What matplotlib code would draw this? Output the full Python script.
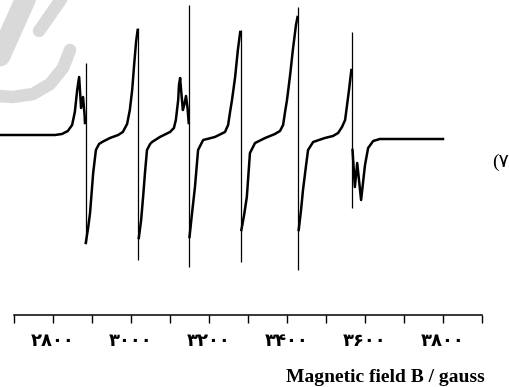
import numpy as np
import matplotlib.pyplot as plt
from matplotlib.lines import Line2D

# EPR spectrum (first derivative), field in gauss, intensity in arbitrary units.
# np.nan marks where the trace jumps from a peak to its trough.
field = [2664, 2805, 2823, 2838, 2849, 2856, 2862, 2867, 2872, 2877, 2881, 2882, np.nan,
         2884, 2890, 2895, 2903, 2910, 2918, 2926, 2946, 2967, 2979, 2990, 2997, 3003,
         3008, 3013, 3017, np.nan,
         3020, 3026, 3031, 3036, 3041, 3049, 3054, 3074, 3100, 3110, 3115, 3121, 3123,
         3126, 3128, 3133, 3137, 3141, 3145, 3148, np.nan,
         3150, 3156, 3164, 3172, 3185, 3215, 3241, 3249, 3254, 3259, 3267, 3274, 3280, np.nan,
         3283, 3290, 3297, 3305, 3318, 3344, 3369, 3382, 3390, 3395, 3400, 3408, 3415,
         3423, 3427, np.nan,
         3430, 3436, 3441, 3449, 3454, 3467, 3497, 3518, 3531, 3541, 3549, 3554, 3559,
         3565, np.nan,
         3568, 3574, 3580, 3590, 3600, 3608, 3621, 3638, 3800]
signal = [0.00, 0.00, 0.01, 0.04, 0.10, 0.23, 0.45, 0.58, 0.27, 0.38, 0.20, 0.12, np.nan,
          -1.08, -0.93, -0.78, -0.38, -0.15, -0.09, -0.07, -0.03, 0.00, 0.03, 0.11, 0.25, 0.45,
          0.70, 0.93, 1.05, np.nan,
          -1.03, -0.85, -0.62, -0.37, -0.15, -0.09, -0.07, -0.02, 0.03, 0.07, 0.15, 0.35, 0.50,
          0.57, 0.47, 0.25, 0.31, 0.39, 0.27, 0.12, np.nan,
          -1.02, -0.80, -0.52, -0.15, -0.05, -0.02, 0.03, 0.10, 0.23, 0.35, 0.58, 0.85, 1.03, np.nan,
          -0.95, -0.80, -0.62, -0.18, -0.08, -0.03, 0.01, 0.04, 0.10, 0.23, 0.35, 0.60, 0.85,
          1.10, 1.18, np.nan,
          -0.95, -0.75, -0.55, -0.30, -0.15, -0.07, -0.03, -0.01, 0.02, 0.08, 0.15, 0.30, 0.45,
          0.65, np.nan,
          -0.15, -0.52, -0.28, -0.65, -0.30, -0.13, -0.06, -0.04, -0.04]

# sharp central lines of the six hyperfine components
line_pos = [2884, 3019, 3150, 3281, 3428, 3567]
line_top = [0.72, 1.07, 1.30, 1.05, 1.28, 1.03]
line_bottom = [-1.08, -1.25, -1.32, -1.27, -1.35, -0.73]

major_ticks = [2800, 3000, 3200, 3400, 3600, 3800]
major_labels = ['۲۸۰۰', '۳۰۰۰', '۳۲۰۰', '۳۴۰۰', '۳۶۰۰', '۳۸۰۰']
minor_ticks = [2700, 2900, 3100, 3300, 3500, 3700, 3900]

fig = plt.figure(figsize=(5.10, 3.87), dpi=100)
ax = fig.add_axes([0, 0, 1, 1])
ax.set_facecolor('none')
ax.set_xlim(2664.1, 3971.8)
ax.set_ylim(-2.52, 1.35)

# faint logo in the upper left corner
grey = '#d9d9d9'
def px(xs, ys):
    return [x / 510 for x in xs], [1 - y / 387 for y in ys]
for xs, ys, w in [([26, 0], [-2, 56], 15),
                  ([62, 39], [-2, 31], 9),
                  ([70, 63, 50, 33, 13, -2], [50, 68, 84, 94, 97, 96], 9)]:
    fx, fy = px(xs, ys)
    fig.add_artist(Line2D(fx, fy, color=grey, lw=w, solid_capstyle='round', zorder=0))

ax.plot(field, signal, color='black', lw=1.8, zorder=3)
ax.vlines(line_pos, line_bottom, line_top, color='black', lw=0.9, zorder=3)

for side in ['left', 'right', 'top']:
    ax.spines[side].set_visible(False)
ax.spines['bottom'].set_position(('data', -1.80))
ax.spines['bottom'].set_bounds(2700, 3900)
ax.spines['bottom'].set_linewidth(1.1)
ax.set_yticks([])
ax.set_xticks(major_ticks)
ax.set_xticklabels(major_labels, fontsize=13, fontweight='bold', family='DejaVu Sans')
ax.set_xticks(minor_ticks, minor=True)
ax.tick_params(axis='x', which='both', direction='out', length=6, width=1.0, pad=6)

ax.set_xlabel('Magnetic field B / gauss', fontsize=14, fontweight='bold',
              family='Liberation Serif', ha='right', va='center')
ax.xaxis.set_label_coords(485 / 510, 1 - 377 / 387)

ax.text(0.998, 0.58, '(۷', fontsize=14, family=['Liberation Serif', 'DejaVu Sans'],
        ha='right', va='center', transform=ax.transAxes)

fig.savefig('out.png', dpi=100)
